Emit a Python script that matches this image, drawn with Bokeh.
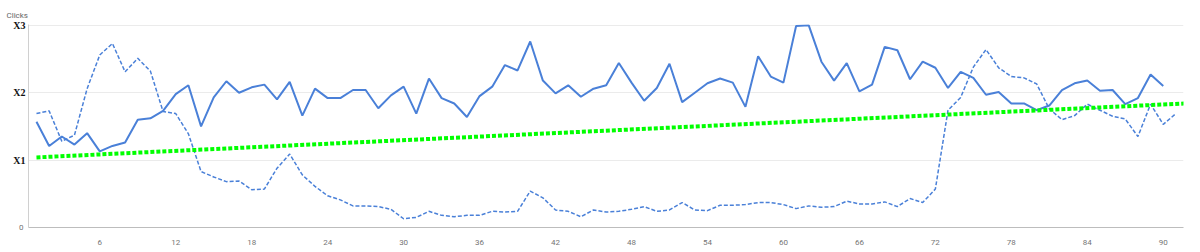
from bokeh.plotting import figure
from bokeh.models import Range1d, FixedTicker, LinearAxis, Title
from bokeh.embed import file_html
from bokeh.resources import INLINE

# ---- data ----
solid_values = [
    1.57, 1.21, 1.35, 1.23, 1.40, 1.13, 1.21, 1.26, 1.60, 1.62,
    1.73, 1.98, 2.11, 1.50, 1.93, 2.17, 2.00, 2.08, 2.12, 1.90,
    2.16, 1.66, 2.06, 1.92, 1.92, 2.04, 2.04, 1.77, 1.96, 2.09,
    1.69, 2.21, 1.92, 1.84, 1.64, 1.95, 2.09, 2.41, 2.33, 2.76,
    2.18, 1.99, 2.11, 1.94, 2.06, 2.11, 2.44, 2.15, 1.88, 2.07,
    2.43, 1.86, 2.00, 2.14, 2.21, 2.15, 1.79, 2.54, 2.24, 2.15,
    2.99, 3.00, 2.46, 2.18, 2.44, 2.02, 2.12, 2.68, 2.63, 2.20,
    2.46, 2.37, 2.07, 2.31, 2.22, 1.97, 2.01, 1.84, 1.84, 1.74,
    1.81, 2.04, 2.14, 2.18, 2.03, 2.04, 1.83, 1.92, 2.27, 2.10,
]
dashed_values = [
    1.69, 1.73, 1.28, 1.37, 2.06, 2.56, 2.73, 2.31, 2.51, 2.32,
    1.72, 1.69, 1.39, 0.83, 0.75, 0.68, 0.69, 0.56, 0.57, 0.88,
    1.09, 0.78, 0.61, 0.47, 0.41, 0.32, 0.32, 0.31, 0.27, 0.13,
    0.15, 0.24, 0.18, 0.16, 0.18, 0.18, 0.24, 0.23, 0.24, 0.54,
    0.44, 0.26, 0.24, 0.16, 0.26, 0.23, 0.24, 0.27, 0.31, 0.24,
    0.26, 0.37, 0.26, 0.25, 0.33, 0.33, 0.34, 0.37, 0.37, 0.34,
    0.28, 0.32, 0.30, 0.31, 0.39, 0.35, 0.35, 0.38, 0.31, 0.43,
    0.37, 0.57, 1.74, 1.93, 2.38, 2.64, 2.37, 2.24, 2.22, 2.13,
    1.76, 1.60, 1.66, 1.83, 1.74, 1.65, 1.61, 1.35, 1.83, 1.53,
    1.69,
]
solid_x = list(range(1, len(solid_values) + 1))
dashed_x = list(range(1, len(dashed_values) + 1))
trend_x = [1, 92]
trend_y = [1.04, 1.843]
x_ticks = [6, 12, 18, 24, 30, 36, 42, 48, 54, 60, 66, 72, 78, 84, 90]
y_zero_tick = [0]
y_named_ticks = [1, 2, 3]
y_named_labels = ["X1", "X2", "X3"]
axis_title = "Clicks"

X_START, X_END = 0.37, 91.6
Y_END = 3.012

p = figure(width=1200, height=252, output_backend="svg", toolbar_location=None,
           x_range=Range1d(X_START, X_END), y_range=Range1d(0, Y_END),
           min_border_left=28, min_border_right=17, min_border_top=24, min_border_bottom=25,
           background_fill_color="white", border_fill_color="white")
p.outline_line_color = None

p.title = Title(text=axis_title, align="left", offset=-22, text_font_size="8px",
                text_font="Roboto", text_font_style="normal", text_color="#666666", standoff=10)

blue = "#4a80d8"
p.line(dashed_x, dashed_values, line_color=blue, line_width=1.5, line_dash="4 2")
p.line(solid_x, solid_values, line_color=blue, line_width=2)
p.line(trend_x, trend_y, line_color="#00ff00", line_width=4, line_dash="4 2")

# x axis
p.xaxis.ticker = FixedTicker(ticks=x_ticks)
p.xaxis.major_tick_line_color = None
p.xaxis.minor_tick_line_color = None
p.xaxis.major_tick_out = 0
p.xaxis.axis_line_color = "#bdbdbd"
p.xaxis.major_label_text_font = "Roboto"
p.xaxis.major_label_text_font_size = "8px"
p.xaxis.major_label_text_color = "#757575"
p.xaxis.major_label_standoff = 12

# inner y axis: named ticks in bold serif
p.yaxis.ticker = FixedTicker(ticks=y_named_ticks)
p.yaxis.major_label_overrides = {t: s for t, s in zip(y_named_ticks, y_named_labels)}
p.yaxis.major_tick_line_color = None
p.yaxis.minor_tick_line_color = None
p.yaxis.major_tick_out = 0
p.yaxis.axis_line_color = "#d0d0d0"
p.yaxis.major_label_text_font = "Liberation Serif"
p.yaxis.major_label_text_font_style = "bold"
p.yaxis.major_label_text_font_size = "10px"
p.yaxis.major_label_text_color = "#111111"
p.yaxis.major_label_standoff = 3

# outer y axis: zero label in grey
zero_axis = LinearAxis(ticker=FixedTicker(ticks=y_zero_tick))
zero_axis.axis_line_color = None
zero_axis.major_tick_line_color = None
zero_axis.minor_tick_line_color = None
zero_axis.major_tick_out = 0
zero_axis.major_label_text_font = "Roboto"
zero_axis.major_label_text_font_size = "8px"
zero_axis.major_label_text_color = "#757575"
zero_axis.major_label_standoff = -13
p.add_layout(zero_axis, "left")

p.xgrid.grid_line_color = None
p.ygrid.ticker = FixedTicker(ticks=y_named_ticks)
p.ygrid.grid_line_color = "#ebebeb"

open("out.html", "w").write(file_html(p, INLINE))
